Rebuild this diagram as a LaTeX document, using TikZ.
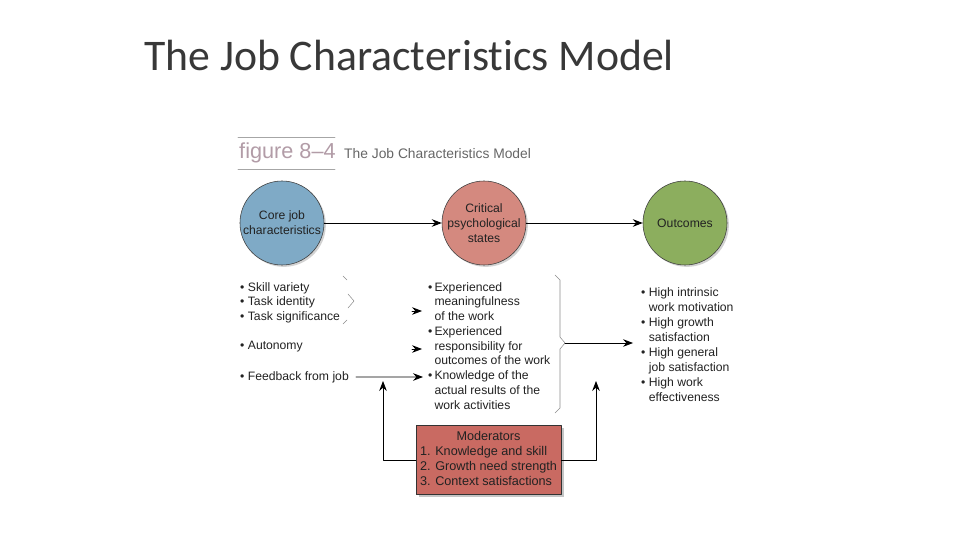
\documentclass[tikz,border=0pt]{standalone}
\usepackage{fontspec}
\setmainfont{Liberation Sans}
\newfontfamily\titlefont[Ligatures=NoCommon]{Carlito}
\usepackage{tikz}
\usetikzlibrary{arrows.meta,shadows,positioning}

\definecolor{coreblue}{HTML}{7FAAC6}
\definecolor{critpink}{HTML}{D4897F}
\definecolor{outgreen}{HTML}{8CAE5E}
\definecolor{modred}{HTML}{C96A62}
\definecolor{figgray}{HTML}{B29CA7}
\definecolor{txtgray}{HTML}{222222}

\tikzset{
  body/.style={font=\fontsize{10.4pt}{12.6pt}\selectfont,text=txtgray,inner sep=0pt,align=left},
  stage/.style={circle,draw=black!75,line width=0.5pt,minimum size=71.7pt,inner sep=0pt,
    align=center,font=\fontsize{10.4pt}{12.6pt}\selectfont,text=txtgray,
    drop shadow={shadow xshift=1.6pt,shadow yshift=-1.6pt,fill=black!35}},
  brace/.style={draw=black!45,line width=0.45pt},
  link/.style={draw=black,line width=0.7pt},
}

\begin{document}
\begin{tikzpicture}[x=0.03cm,y=-0.03cm,>={Stealth[length=8.5pt,width=6.5pt,inset=2.8pt]},line cap=round,line join=round]
  % white background
  \fill[white] (0,0) rectangle (960,540);
  \useasboundingbox (0,0) rectangle (960,540);

  % slide title
  \node[anchor=base west,inner sep=0pt,font=\titlefont\fontsize{37.3pt}{40pt}\selectfont,text=black!78]
    (title) at (144,71) {The Job Characteristics Model};

  % figure caption
  \draw[black!35,line width=0.5pt] (238,137) -- (335,137);
  \draw[black!35,line width=0.5pt] (238,169) -- (335,169);
  \node[anchor=base west,inner sep=0pt,font=\fontsize{18.5pt}{20pt}\selectfont,text=figgray]
    (fignum) at (239,159) {figure 8--4};
  \node[anchor=base west,inner sep=0pt,font=\fontsize{11.8pt}{13pt}\selectfont,text=black!60]
    (figname) at (344,159) {The Job Characteristics Model};

  % the three stages
  \node[stage,fill=coreblue] (core) at (282,223) {Core job\\characteristics};
  \node[stage,fill=critpink] (crit) at (484,223) {Critical\\psychological\\states};
  \node[stage,fill=outgreen] (outc) at (685,223) {Outcomes};
  \draw[link,->] (core) -- (crit);
  \draw[link,->] (crit) -- (outc);

  % job characteristics
  \node[body,anchor=north west] (skills) at (240,282) {\textbullet\ Skill variety\\\textbullet\ Task identity\\\textbullet\ Task significance};
  \node[body,anchor=north west] (auton) at (240,341) {\textbullet\ Autonomy};
  \node[body,anchor=north west] (feedb) at (240,371) {\textbullet\ Feedback from job};

  % left brace remnants
  \draw[brace] (343,276) -- (347,280);
  \draw[brace] (348,294) -- (354,301) -- (348,308);
  \draw[brace] (347,320) -- (343,324);

  % psychological states
  \node[body,anchor=north west] (states) at (428,282)
    {\textbullet\,Experienced\\\hphantom{\textbullet\,}meaningfulness\\\hphantom{\textbullet\,}of the work\\
     \textbullet\,Experienced\\\hphantom{\textbullet\,}responsibility for\\\hphantom{\textbullet\,}outcomes of the work\\
     \textbullet\,Knowledge of the\\\hphantom{\textbullet\,}actual results of the\\\hphantom{\textbullet\,}work activities};

  % arrow tips into the states
  \coordinate (m1a) at (412,311); \coordinate (m1b) at (422,311);
  \coordinate (m2a) at (412,349); \coordinate (m2b) at (422,349);
  \coordinate (m3b) at (423,377);
  \draw[link,->] (m1a) -- (m1b);
  \draw[link,->] (m2a) -- (m2b);
  \draw[link,->] (feedb.east) ++(7,0) coordinate (fbs) (fbs) -- (m3b);

  % right brace and arrow to the outcomes
  \draw[brace] (555,275) -- (560,280) -- (560,337) -- (565,343) -- (560,349) -- (560,408) -- (555,413);
  \coordinate (bpt) at (565,343);
  \coordinate (btip) at (633,343);
  \draw[link,->] (bpt) -- (btip);

  % outcomes
  \node[body,anchor=north west,font=\fontsize{10.4pt}{12.8pt}\selectfont] (results) at (641,287)
    {\textbullet\ High intrinsic\\\hphantom{\textbullet\ }work motivation\\\textbullet\ High growth\\\hphantom{\textbullet\ }satisfaction\\
     \textbullet\ High general\\\hphantom{\textbullet\ }job satisfaction\\\textbullet\ High work\\\hphantom{\textbullet\ }effectiveness};

  % moderators
  \node[draw=black!80,line width=0.6pt,fill=modred,minimum width=123.8pt,minimum height=59pt,inner sep=2pt,
    font=\fontsize{10.8pt}{12.8pt}\selectfont,text=txtgray,
    drop shadow={shadow xshift=2.5pt,shadow yshift=-2.5pt,fill=black!45}] (mod) at (488.5,460)
    {\begin{tabular}{@{}l@{}}\multicolumn{1}{@{}c@{}}{Moderators}\\1. Knowledge and skill\\2. Growth need strength\\3. Context satisfactions\end{tabular}};
  \coordinate (lup) at (383,381);
  \coordinate (rup) at (596,381);
  \draw[link,->] (mod.west) -| (lup);
  \draw[link,->] (mod.east) -| (rup);
\end{tikzpicture}
\end{document}
